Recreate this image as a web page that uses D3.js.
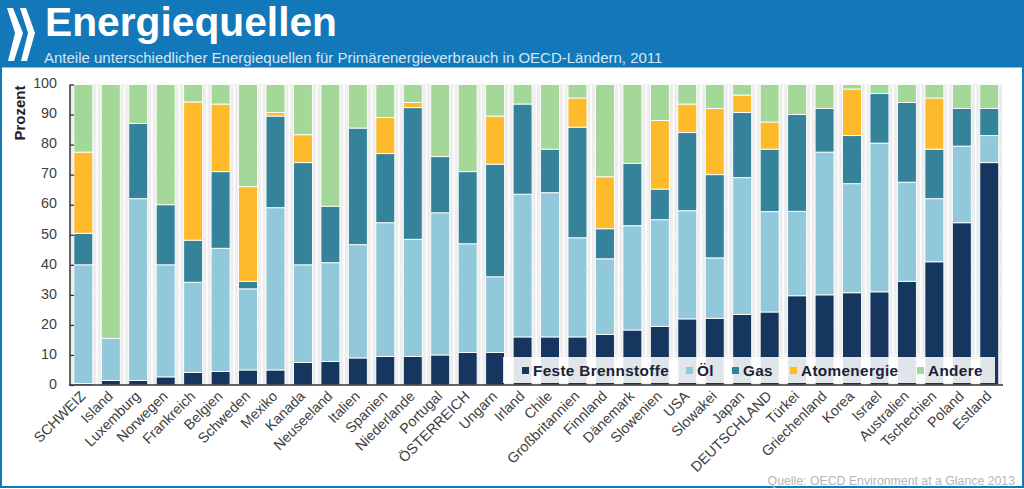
<!DOCTYPE html>
<html><head><meta charset="utf-8">
<script src="https://cdn.jsdelivr.net/npm/d3@7"></script>
<style>html,body{margin:0;padding:0;background:#fff}svg{display:block}text{font-family:"Liberation Sans",Arial,sans-serif}</style>
</head><body><svg id="c" width="1024" height="489"></svg>
<script>
const categories=["SCHWEIZ","Island","Luxemburg","Norwegen","Frankreich","Belgien","Schweden","Mexiko","Kanada","Neuseeland","Italien","Spanien","Niederlande","Portugal","ÖSTERREICH","Ungarn","Irland","Chile","Großbritannien","Finnland","Dänemark","Slowenien","USA","Slowakei","Japan","DEUTSCHLAND","Türkei","Griechenland","Korea","Israel","Australien","Tschechien","Poland","Estland"];
const seriesNames=["Feste Brennstoffe","Öl","Gas","Atomenergie","Andere"];
const seriesColors=["#16365f","#92c9da","#35829b","#fdba2b","#a4d898"];
const feste=[0.5,1.5,1.5,2.7,4.2,4.5,5,5,7.5,7.8,9,9.5,9.5,10,10.8,10.8,16,16,16,16.8,18.3,19.5,22,22.2,23.5,24.3,29.7,30,30.7,31,34.5,41,54,74];
const oel=[39.5,14,60.5,37.3,30,41,27,54,32.5,32.9,37.7,44.5,39,47.3,36.2,25.2,47.5,48,33,25.2,34.7,35.5,36,20.1,45.5,33.4,28.1,47.5,36.3,49.5,33,21,25.5,9];
const gas=[10.5,0,25,20,14,25.5,2.5,30.5,34,18.8,38.8,23,43.8,18.7,24,37.5,30,14.5,36.8,10,20.8,10.2,26,27.7,21.7,20.8,32.2,14.5,16,16.5,26.5,16.5,12.5,9];
const atom=[27,0,0,0,46,22.5,31.5,1.2,9.3,0,0,12,1.7,0,0,16,0,0,9.7,17.3,0,22.8,9.5,22,5.8,9,0,0,15.5,0,0,17,0,0];
const andere=[22.5,84.5,13,40,5.8,6.5,34,9.3,16.7,40.5,14.5,11,6,24,29,10.5,6.5,21.5,4.5,30.7,26.2,12,6.5,8,3.5,12.5,10,8,1.5,3,6,4.5,8,8];
const yTicks=[0,10,20,30,40,50,60,70,80,90,100];
const titleText="Energiequellen";
const subtitleText="Anteile unterschiedlicher Energiequellen für Primärenergieverbrauch in OECD-Ländern, 2011";
const sourceText="Quelle: OECD  Environment at a Glance 2013";

const svg=d3.select("#c");
const blue="#1278b9";
const x=d3.scaleBand().domain(categories).range([69.6,1003]).paddingInner(0.31).paddingOuter(0.155);
const y=d3.scaleLinear().domain([0,100]).range([385,84.5]);

// frame + header
svg.append("rect").attr("x",1).attr("y",1).attr("width",1022).attr("height",486).attr("fill","#fff").attr("stroke",blue).attr("stroke-width",2);
svg.append("rect").attr("x",0).attr("y",0).attr("width",1024).attr("height",67.5).attr("fill",blue);
const logo=svg.append("g").attr("fill","#fff");
["M7,8 L13,8 L23,33 L14,61 L8,61 L15,33 Z","M20,8 L26,8 L35,33 L27,61 L21,61 L28,33 Z"].forEach(d=>logo.append("path").attr("d",d));
svg.append("text").attr("x",45).attr("y",36.3).attr("font-size",40).attr("font-weight",700).attr("fill","#fff").attr("textLength",292).attr("lengthAdjust","spacingAndGlyphs").text(titleText);
svg.append("text").attr("x",44).attr("y",62.5).attr("font-size",15).attr("fill","#d3e6f3").text(subtitleText);

// halos and gridlines
const halo=7;
svg.append("g").selectAll("rect").data(categories).join("rect")
 .attr("x",d=>x(d)-halo/2).attr("width",x.bandwidth()+halo).attr("y",y(100)).attr("height",y(0)-y(100)).attr("fill","#ededed");
svg.append("g").selectAll("line").data(yTicks.slice(1)).join("line")
 .attr("x1",70).attr("x2",1001).attr("y1",d=>y(d)).attr("y2",d=>y(d)).attr("stroke","#f4f4f4").attr("stroke-width",1.5);

// stacked bars
const rows=categories.map((c,i)=>({c,s0:feste[i],s1:oel[i],s2:gas[i],s3:atom[i],s4:andere[i]}));
const stack=d3.stack().keys(["s0","s1","s2","s3","s4"])(rows);
svg.append("g").selectAll("g").data(stack).join("g").attr("fill",(d,i)=>seriesColors[i])
 .selectAll("rect").data(d=>d.filter(p=>p[1]-p[0]>0)).join("rect")
 .attr("x",d=>x(d.data.c)).attr("width",x.bandwidth())
 .attr("y",d=>y(d[1])).attr("height",d=>y(d[0])-y(d[1]))
 .attr("stroke","#fff").attr("stroke-width",0.9);

// axes
const yAxis=svg.append("g").attr("transform","translate(70,0)").call(d3.axisLeft(y).tickValues(yTicks).tickSize(-4).tickPadding(12));
yAxis.selectAll("path.domain").remove();
yAxis.selectAll("text").attr("font-size",14.3).attr("fill","#404040").attr("dy","0.3em").attr("x",-13).attr("y",-1);
yAxis.selectAll("line").attr("stroke","#333").attr("stroke-width",1.3);
svg.append("line").attr("x1",70).attr("x2",70).attr("y1",y(100)).attr("y2",y(0)).attr("stroke","#333").attr("stroke-width",1.5);
svg.append("line").attr("x1",69).attr("x2",1003).attr("y1",y(0)).attr("y2",y(0)).attr("stroke","#333").attr("stroke-width",1.5);
svg.append("text").attr("transform","translate(25,113) rotate(-90)").attr("text-anchor","middle").attr("font-size",15).attr("font-weight",700).attr("fill","#222").text("Prozent");

const xAxis=svg.append("g").attr("transform",`translate(0,${y(0)})`).call(d3.axisBottom(x).tickSize(0).tickPadding(0));
xAxis.select("path.domain").remove();
xAxis.selectAll("text").attr("font-size",14.3).attr("fill","#404040").attr("text-anchor","end").attr("dy",0).attr("y",0)
 .attr("transform","translate(3,12) rotate(-45)");

// legend
svg.append("rect").attr("x",503).attr("y",357).attr("width",492).attr("height",26).attr("fill","#fff").attr("fill-opacity",0.87);
const legendX=[523,687,733,791,918];
const lg=svg.append("g").selectAll("g").data(seriesNames).join("g").attr("transform",(d,i)=>`translate(${legendX[i]},370)`);
lg.append("rect").attr("x",-1).attr("y",-3).attr("width",7).attr("height",7).attr("fill",(d,i)=>seriesColors[i]);
lg.append("text").attr("x",10).attr("y",6).attr("font-size",15.3).attr("font-weight",700).attr("fill","#1a2233").attr("letter-spacing",0.35).text(d=>d);

svg.append("text").attr("x",1015).attr("y",485).attr("text-anchor","end").attr("font-size",12.3).attr("fill","#b5b5b5").text(sourceText);
</script></body></html>
